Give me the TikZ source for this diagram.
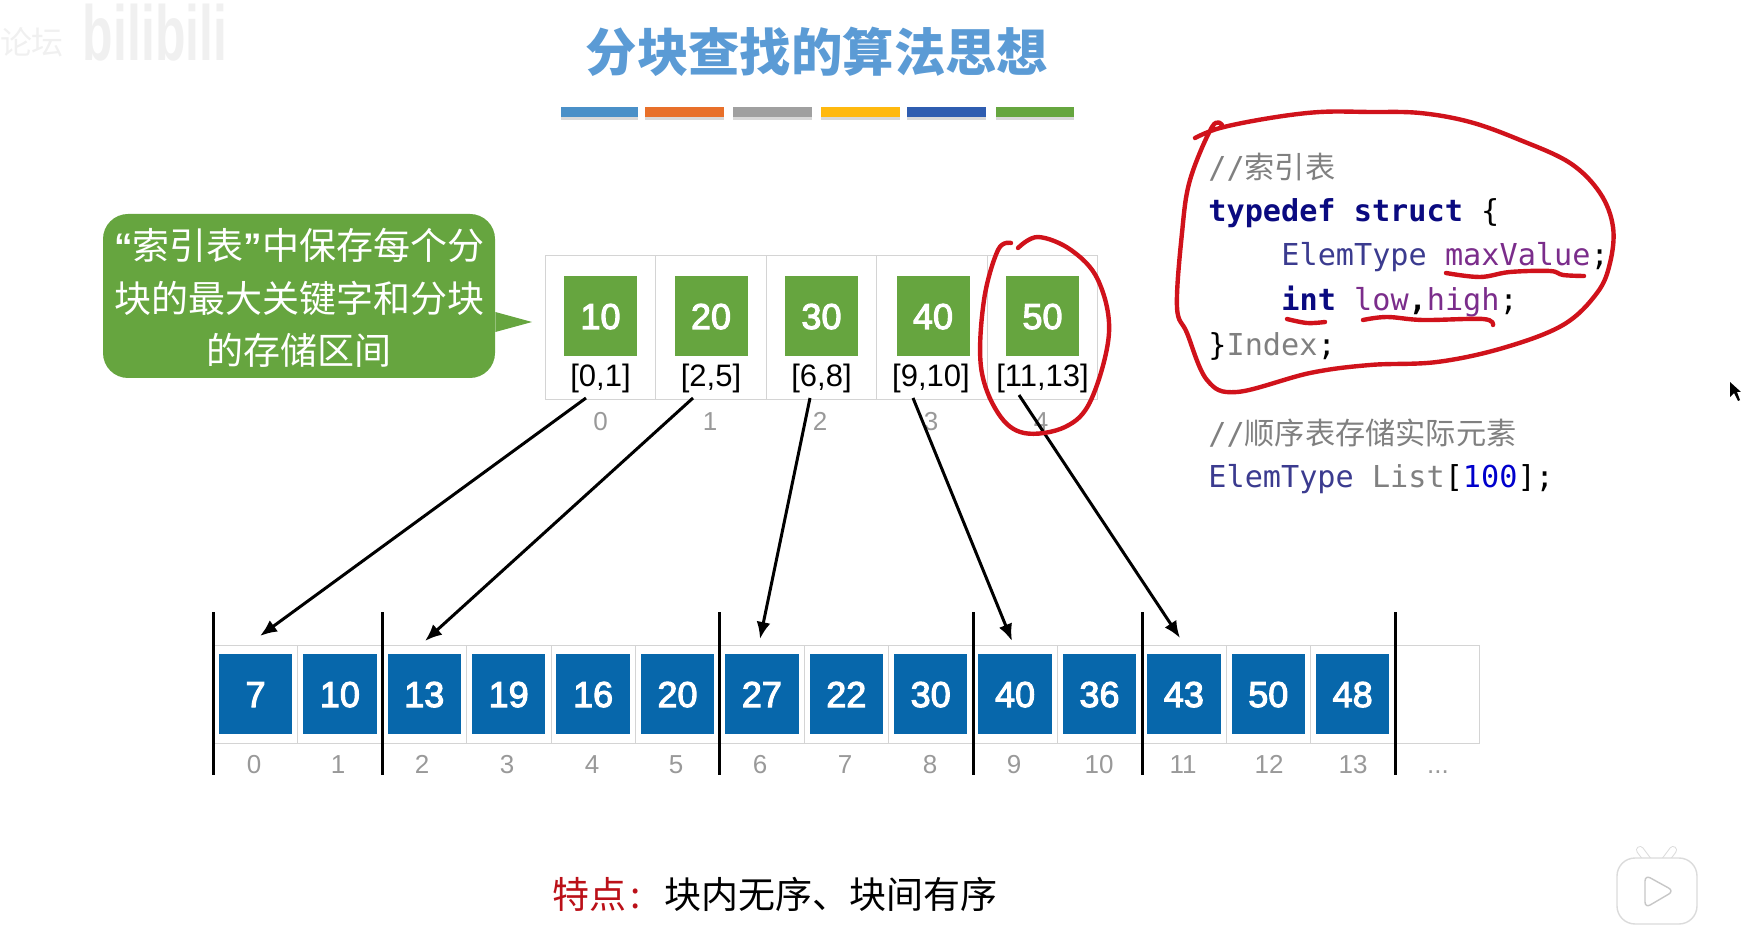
\documentclass[tikz,border=0pt]{standalone}
\usepackage{fontspec}
\usepackage{tikz}
\usetikzlibrary{arrows.meta,positioning,shadows}
\setmainfont{Liberation Sans}
\newfontfamily\cjk{Noto Sans CJK SC}
\newfontfamily\codefont{DejaVu Sans Mono}
\newfontfamily\keyfont[FakeBold=3]{Liberation Sans}
\definecolor{titleblue}{HTML}{5B9BD5}
\definecolor{boxgreen}{HTML}{66A53F}
\definecolor{boxblue}{HTML}{0767AB}
\definecolor{cellgray}{HTML}{D4D4D4}
\definecolor{numgray}{HTML}{999999}
\definecolor{penred}{HTML}{D0121B}
\definecolor{kwnavy}{HTML}{0A0A80}
\definecolor{typeblue}{HTML}{3B3B8F}
\definecolor{varpurple}{HTML}{7B2D8B}
\definecolor{commentgray}{HTML}{808080}

\begin{document}
\begin{tikzpicture}[x=0.5pt,y=-0.5pt]
    \tikzset{idxcell/.style = {shape=rectangle,draw=cellgray,minimum width=55.25pt,minimum height=72pt, inner sep = 0pt}}
    \tikzset{arrcell/.style = {shape=rectangle,draw=cellgray,minimum width=42.2pt,minimum height=49pt, inner sep = 0pt}}
    \tikzset{keygreen/.style = {shape=rectangle,fill=boxgreen,text=white,minimum width=36.5pt,minimum height=40pt, inner sep = 0pt, text height=13pt, text depth=0pt, font=\fontsize{18}{20}\selectfont\keyfont}}
    \tikzset{keyblue/.style = {shape=rectangle,fill=boxblue,text=white,minimum width=36.7pt,minimum height=40pt, inner sep = 0pt, text height=13pt, text depth=0pt, font=\fontsize{18}{20}\selectfont\keyfont}}
    \tikzset{rangelab/.style = {inner sep = 0pt, font=\fontsize{15.5}{18}\selectfont}}
    \tikzset{numlab/.style = {inner sep = 0pt, text=numgray, text height=9.3pt, text depth=0pt, font=\fontsize{13}{15}\selectfont}}
    \tikzset{codeline/.style = {anchor=west, inner sep = 0pt, font=\fontsize{15.1}{18}\selectfont\codefont}}
    \tikzset{colorbar/.style = {drop shadow={shadow xshift=0pt,shadow yshift=-1.5pt,opacity=0.3}}}
    \tikzset{edge/.style = {-{Latex[length=8.5pt,width=7pt]}, line width=1.5pt}}
    \tikzset{divider/.style = {-, line width=1.5pt}}
    \tikzset{penline/.style = {draw=penred, line width=2.2pt, line cap=round, line join=round}}

    \useasboundingbox (0, 0) rectangle (1741, 930);

    % top left mark
    \node[inner sep=0pt, text=black!6, font=\fontsize{16}{20}\selectfont\cjk] (marktext) at (32, 42) {论坛};
    \node[inner sep=0pt, xscale=0.64, text=black!6, font=\fontsize{39}{40}\selectfont\bfseries] (markname) at (155, 33) {bilibili};

    % title and colour bars
    \node[inner sep=0pt, text=titleblue, font=\fontsize{25.7}{30}\selectfont\cjk\bfseries] (title) at (817, 52) {分块查找的算法思想};
    \fill[colorbar, fill={rgb,255:red,74;green,144;blue,200}] (561, 107) rectangle (638, 117);
    \fill[colorbar, fill={rgb,255:red,232;green,112;blue,42}] (645, 107) rectangle (724, 117);
    \fill[colorbar, fill={rgb,255:red,160;green,160;blue,160}] (733, 107) rectangle (812, 117);
    \fill[colorbar, fill={rgb,255:red,255;green,185;blue,15}] (821, 107) rectangle (900, 117);
    \fill[colorbar, fill={rgb,255:red,47;green,93;blue,176}] (907, 107) rectangle (986, 117);
    \fill[colorbar, fill={rgb,255:red,102;green,166;blue,63}] (996, 107) rectangle (1074, 117);

    % callout
    \node[shape=rectangle, rounded corners=12.5pt, fill=boxgreen, minimum width=196pt, minimum height=82pt, inner sep=0pt] (callout) at (299, 296) {};
    \node[inner sep=0pt, text=white, align=center, font=\fontsize{18.5}{26.3}\selectfont\cjk] (callouttext) at (299, 298) {{\rmfamily\bfseries “}索引表{\rmfamily\bfseries ”}中保存每个分\\块的最大关键字和分块\\的存储区间};
    \coordinate (tip) at (532, 322);
    \fill[boxgreen] (callout.east |- 0, 312) -- (tip) -- (callout.east |- 0, 332) -- cycle;

    % index table
    \node[idxcell] (I0) at (600.5, 327) {};
    \node[idxcell] (I1) at (711, 327) {};
    \node[idxcell] (I2) at (821.5, 327) {};
    \node[idxcell] (I3) at (932, 327) {};
    \node[idxcell] (I4) at (1042.5, 327) {};

    \node[keygreen] (K0) at (600.5, 316) {10};
    \node[keygreen] (K1) at (711, 316) {20};
    \node[keygreen] (K2) at (821.5, 316) {30};
    \node[keygreen] (K3) at (933, 316) {40};
    \node[keygreen] (K4) at (1042.5, 316) {50};

    \node[rangelab] (R0) at (600.5, 378) {[0,1]};
    \node[rangelab] (R1) at (711, 378) {[2,5]};
    \node[rangelab] (R2) at (821.5, 378) {[6,8]};
    \node[rangelab] (R3) at (931, 378) {[9,10]};
    \node[rangelab] (R4) at (1042.5, 378) {[11,13]};

    \node[numlab] (N0) at (600.5, 421) {0};
    \node[numlab] (N1) at (710, 421) {1};
    \node[numlab] (N2) at (820, 421) {2};
    \node[numlab] (N3) at (931, 421) {3};
    \node[numlab] (N4) at (1041, 421) {4};

    % array cells
    \node[arrcell] (C0) at (255.5, 694) {};
    \node[arrcell] (C1) at (339.9, 694) {};
    \node[arrcell] (C2) at (424.3, 694) {};
    \node[arrcell] (C3) at (508.7, 694) {};
    \node[arrcell] (C4) at (593.1, 694) {};
    \node[arrcell] (C5) at (677.5, 694) {};
    \node[arrcell] (C6) at (761.9, 694) {};
    \node[arrcell] (C7) at (846.3, 694) {};
    \node[arrcell] (C8) at (930.7, 694) {};
    \node[arrcell] (C9) at (1015.1, 694) {};
    \node[arrcell] (C10) at (1099.5, 694) {};
    \node[arrcell] (C11) at (1183.9, 694) {};
    \node[arrcell] (C12) at (1268.3, 694) {};
    \node[arrcell] (C13) at (1352.7, 694) {};
    \node[arrcell] (C14) at (1437.1, 694) {};

    \node[keyblue] (B0) at (255.5, 694) {7};
    \node[keyblue] (B1) at (339.9, 694) {10};
    \node[keyblue] (B2) at (424.3, 694) {13};
    \node[keyblue] (B3) at (508.7, 694) {19};
    \node[keyblue] (B4) at (593.1, 694) {16};
    \node[keyblue] (B5) at (677.5, 694) {20};
    \node[keyblue] (B6) at (761.9, 694) {27};
    \node[keyblue] (B7) at (846.3, 694) {22};
    \node[keyblue] (B8) at (930.7, 694) {30};
    \node[keyblue] (B9) at (1015.1, 694) {40};
    \node[keyblue] (B10) at (1099.5, 694) {36};
    \node[keyblue] (B11) at (1183.9, 694) {43};
    \node[keyblue] (B12) at (1268.3, 694) {50};
    \node[keyblue] (B13) at (1352.7, 694) {48};

    \node[numlab] (M0) at (254, 764) {0};
    \node[numlab] (M1) at (338, 764) {1};
    \node[numlab] (M2) at (422, 764) {2};
    \node[numlab] (M3) at (507, 764) {3};
    \node[numlab] (M4) at (592, 764) {4};
    \node[numlab] (M5) at (676, 764) {5};
    \node[numlab] (M6) at (760, 764) {6};
    \node[numlab] (M7) at (845, 764) {7};
    \node[numlab] (M8) at (930, 764) {8};
    \node[numlab] (M9) at (1014, 764) {9};
    \node[numlab] (M10) at (1099, 764) {10};
    \node[numlab] (M11) at (1183, 764) {11};
    \node[numlab] (M12) at (1269, 764) {12};
    \node[numlab] (M13) at (1353, 764) {13};
    \node[numlab] (M14) at (1438, 764) {...};

    % block dividers
    \coordinate (T0) at (213.5, 612); \coordinate (U0) at (213.5, 775);
    \coordinate (T1) at (382, 612); \coordinate (U1) at (382, 775);
    \coordinate (T2) at (719.5, 612); \coordinate (U2) at (719.5, 775);
    \coordinate (T3) at (973, 612); \coordinate (U3) at (973, 775);
    \coordinate (T4) at (1142, 612); \coordinate (U4) at (1142, 775);
    \coordinate (T5) at (1395.5, 612); \coordinate (U5) at (1395.5, 775);
    \draw[divider] (T0) -- (U0);
    \draw[divider] (T1) -- (U1);
    \draw[divider] (T2) -- (U2);
    \draw[divider] (T3) -- (U3);
    \draw[divider] (T4) -- (U4);
    \draw[divider] (T5) -- (U5);

    % arrows
    \coordinate (F0) at (586, 398); \coordinate (G0) at (260, 636);
    \coordinate (F1) at (693, 398); \coordinate (G1) at (425, 641);
    \coordinate (F2) at (810, 398); \coordinate (G2) at (760, 639);
    \coordinate (F3) at (913, 398); \coordinate (G3) at (1012, 641);
    \coordinate (F4) at (1019, 395); \coordinate (G4) at (1180, 638);
    \draw[edge] (F0) -- (G0);
    \draw[edge] (F1) -- (G1);
    \draw[edge] (F2) -- (G2);
    \draw[edge] (F3) -- (G3);
    \draw[edge] (F4) -- (G4);

    % code
    \node[codeline] (L0) at (1208, 167) {\textcolor{commentgray}{//{\cjk 索引表}}};
    \node[codeline] (L1) at (1208, 213) {\textcolor{kwnavy}{\bfseries typedef struct} \{};
    \node[codeline] (L2) at (1281, 257) {\textcolor{typeblue}{ElemType} \textcolor{varpurple}{maxValue};};
    \node[codeline] (L3) at (1281, 301) {\textcolor{kwnavy}{\bfseries int} \textcolor{varpurple}{low}{\bfseries ,}\textcolor{varpurple}{high};};
    \node[codeline] (L4) at (1208, 346) {\}\textcolor{commentgray}{Index};};
    \node[codeline] (L5) at (1208, 433) {\textcolor{commentgray}{//{\cjk 顺序表存储实际元素}}};
    \node[codeline] (L6) at (1208, 479) {\textcolor{typeblue}{ElemType} \textcolor{commentgray}{List}[\textcolor{blue!80!black}{100}];};

    % pen marks
    \draw[penline] plot[smooth, tension=0.6] coordinates {(1195,138) (1220,128) (1270,118) (1320,112) (1370,112) (1420,113) (1470,122) (1520,140) (1570,163) (1600,193) (1613,227) (1610,263) (1597,293) (1563,325) (1503,348) (1437,362) (1370,365) (1310,373) (1237,392) (1207,380) (1187,333) (1177,307) (1182,233) (1190,180) (1212,127) (1222,125)};
    \draw[penline] plot[smooth, tension=0.6] coordinates {(1011,243) (998,250) (984,300) (981,367) (998,413) (1024,433) (1065,427) (1091,400) (1109,333) (1098,280) (1071,250) (1038,237) (1018,248)};
    \draw[penline] plot[smooth, tension=0.6] coordinates {(1446,273) (1480,277) (1510,272) (1550,271) (1563,275) (1584,276)};
    \draw[penline] plot[smooth, tension=0.6] coordinates {(1287,319) (1307,323) (1325,322)};
    \draw[penline] plot[smooth, tension=0.6] coordinates {(1363,320) (1387,317) (1423,320) (1483,319) (1493,325)};

    % footer
    \node[inner sep=0pt, anchor=west, text=black!10!penred, font=\fontsize{18.5}{22}\selectfont\cjk] (feature) at (552, 894) {特点\kern2pt:};
    \node[inner sep=0pt, anchor=west, font=\fontsize{18.5}{22}\selectfont\cjk] (featuretext) at (664, 894) {块内无序、块间有序};

    % cursor and player button
    \fill[black] (1730, 382) -- (1730, 397) -- (1734, 393) -- (1738, 401) -- (1740, 400) -- (1737, 392) -- (1741, 392) -- cycle;
    \draw[black!14, line width=4pt, line cap=round] (1640, 850) -- (1649, 862) (1673, 850) -- (1664, 862);
    \draw[white, line width=3pt, line cap=round] (1640, 850) -- (1649, 862) (1673, 850) -- (1664, 862);
    \filldraw[fill=white, draw=black!14, line width=0.7pt, rounded corners=9pt] (1617, 858) rectangle (1697, 924);
    \filldraw[fill=white, draw=black!22, line width=0.7pt, rounded corners=3pt] (1645, 875) -- (1674, 891) -- (1645, 908) -- cycle;
\end{tikzpicture}
\end{document}
